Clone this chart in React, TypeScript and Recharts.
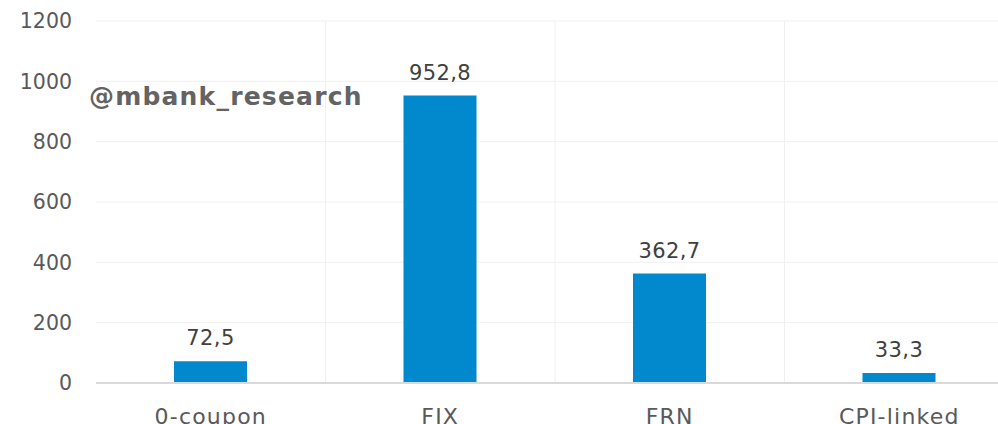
// Bond outstanding by coupon type, bar chart with mbank watermark.

import { Bar, BarChart, CartesianGrid, LabelList, XAxis, YAxis } from "recharts";

const categories = ["0-coupon", "FIX", "FRN", "CPI-linked"];
const amounts = [72.5, 952.8, 362.7, 33.3];
const yTicks = [0, 200, 400, 600, 800, 1000, 1200];

const data = categories.map((name, i) => ({ name, value: amounts[i] }));

const FONT = "'DejaVu Sans', sans-serif";
const fmt = (v: number) => v.toFixed(1).replace(".", ",");

export default function App() {
  return (
    <div
      style={{
        position: "absolute",
        left: 0,
        top: 0,
        width: 998,
        height: 424,
        overflow: "hidden",
        background: "#fff",
        fontFamily: FONT,
      }}
    >
      <BarChart
        width={1014}
        height={424}
        data={data}
        margin={{ top: 21, right: 0, bottom: 0, left: 0 }}
        barSize={73}
      >
        <CartesianGrid
          stroke="#f0f0f0"
          verticalCoordinatesGenerator={({ offset }: any) =>
            [1, 2, 3, 4].map((i) => offset.left + (i * offset.width) / categories.length)
          }
        />
        <XAxis
          dataKey="name"
          tickLine={false}
          tickSize={0}
          tickMargin={25}
          height={41}
          axisLine={{ stroke: "#d9d9d9", strokeWidth: 2 }}
          tick={{ fill: "#595959", fontSize: 22, fontFamily: FONT, letterSpacing: 1.2 }}
        />
        <YAxis
          domain={[0, 1200]}
          ticks={yTicks}
          width={96}
          axisLine={false}
          tickLine={false}
          tickSize={0}
          tickMargin={24}
          tick={{ fill: "#595959", fontSize: 20.5, fontFamily: FONT }}
        />
        <Bar dataKey="value" fill="#0288cc" isAnimationActive={false}>
          <LabelList
            dataKey="value"
            position="top"
            offset={16}
            formatter={(v: any) => fmt(Number(v))}
            style={{ fill: "#404040", fontSize: 21, fontFamily: FONT, letterSpacing: 0.4 }}
          />
        </Bar>
      </BarChart>
      <div
        style={{
          position: "absolute",
          left: 89,
          top: 81,
          fontSize: 25,
          fontWeight: "bold",
          color: "#636363",
          whiteSpace: "nowrap",
          lineHeight: "32px",
          letterSpacing: 1.2,
        }}
      >
        @mbank_research
      </div>
    </div>
  );
}
